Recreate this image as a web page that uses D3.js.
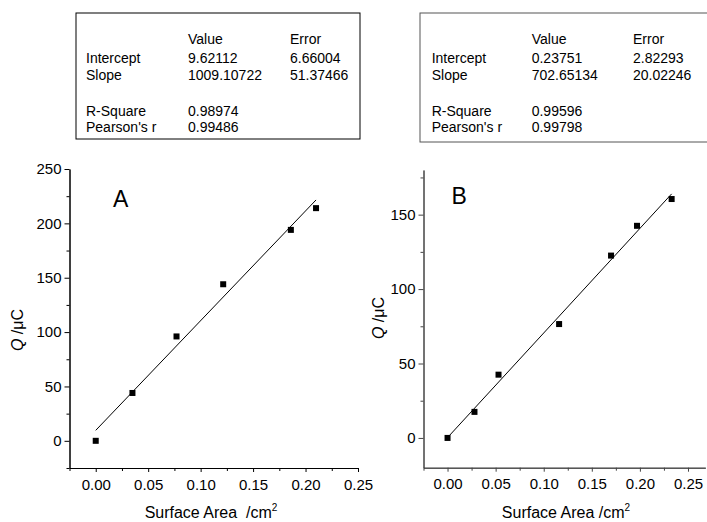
<!DOCTYPE html>
<html>
<head>
<meta charset="utf-8">
<script src="https://cdn.jsdelivr.net/npm/d3@7"></script>
<style>
  body { margin: 0; background: #fff; }
  svg { display: block; font-family: "Liberation Sans", Arial, sans-serif; }
  text { white-space: pre; }
</style>
</head>
<body>
<svg id="chart" width="707" height="522"></svg>
<script>
// panel A data
const areaA = [0, 0.035, 0.077, 0.1215, 0.186, 0.21];
const chargeA = [0, 44, 96, 144, 194, 214];
const fitA = { intercept: 9.62112, slope: 1009.10722 };
const statsA = [
  ['', 'Value', 'Error'],
  ['Intercept', '9.62112', '6.66004'],
  ['Slope', '1009.10722', '51.37466'],
  ['R-Square', '0.98974', ''],
  ["Pearson's r", '0.99486', '']
];

// panel B data
const areaB = [0, 0.028, 0.053, 0.116, 0.17, 0.197, 0.233];
const chargeB = [0, 17.5, 42.5, 76.5, 122.5, 142.5, 160.5];
const fitB = { intercept: 0.23751, slope: 702.65134 };
const statsB = [
  ['', 'Value', 'Error'],
  ['Intercept', '0.23751', '2.82293'],
  ['Slope', '702.65134', '20.02246'],
  ['R-Square', '0.99596', ''],
  ["Pearson's r", '0.99798', '']
];

const xMajor = [0, 0.05, 0.1, 0.15, 0.2, 0.25];
const xMinor = [-0.025, 0.025, 0.075, 0.125, 0.175, 0.225];
const yMajorA = [0, 50, 100, 150, 200, 250];
const yMinorA = [-25, 25, 75, 125, 175, 225];
const yMajorB = [0, 50, 100, 150];
const yMinorB = [25, 75, 125, 175];

const svg = d3.select('#chart');
const rowY = [44, 62.5, 80, 116, 131.5];

function drawStats(stats, box, cols, color) {
  svg.append('rect')
    .attr('x', box[0]).attr('y', box[1])
    .attr('width', box[2]).attr('height', box[3])
    .attr('fill', 'none').attr('stroke', color).attr('stroke-width', 1);
  stats.forEach((row, i) => {
    row.forEach((t, j) => {
      if (!t) return;
      svg.append('text')
        .attr('x', cols[j]).attr('y', rowY[i])
        .attr('font-size', 14).attr('fill', '#000')
        .text(t);
    });
  });
}

function drawPanel(opts) {
  const x = d3.scaleLinear().domain(opts.xDomain).range(opts.xRange);
  const y = d3.scaleLinear().domain(opts.yDomain).range(opts.yRange);
  const g = svg.append('g');
  const x0 = opts.xRange[0], y0 = opts.yRange[0];

  // x axis
  const xa = g.append('g').attr('transform', `translate(0,${y0})`)
    .call(d3.axisBottom(x).tickValues(xMajor).tickSize(4).tickSizeOuter(0).tickPadding(7)
      .tickFormat(d3.format('.2f')));
  g.append('g').attr('transform', `translate(0,${y0})`)
    .call(d3.axisBottom(x).tickValues(xMinor).tickSize(3).tickSizeOuter(0).tickFormat(''));

  // y axis
  const ya = g.append('g').attr('transform', `translate(${x0},0)`)
    .call(d3.axisLeft(y).tickValues(opts.yMajor).tickSize(5).tickSizeOuter(0).tickPadding(3));
  g.append('g').attr('transform', `translate(${x0},0)`)
    .call(d3.axisLeft(y).tickValues(opts.yMinor).tickSize(3).tickSizeOuter(0).tickFormat(''));

  g.selectAll('.domain, .tick line').attr('stroke', opts.axisColor);
  g.selectAll('.tick text').attr('font-size', 15).attr('fill', '#000')
    .attr('font-family', '"Liberation Sans", Arial, sans-serif');

  // fit line
  const xs = [0, d3.max(opts.area)];
  g.append('line')
    .attr('x1', x(xs[0])).attr('y1', y(opts.fit.intercept + opts.fit.slope * xs[0]))
    .attr('x2', x(xs[1])).attr('y2', y(opts.fit.intercept + opts.fit.slope * xs[1]))
    .attr('stroke', '#000').attr('stroke-width', 1);

  // points
  g.selectAll('rect.pt').data(opts.area.map((a, i) => [a, opts.charge[i]]))
    .enter().append('rect').attr('class', 'pt')
    .attr('x', d => x(d[0]) - 3).attr('y', d => y(d[1]) - 3)
    .attr('width', 6).attr('height', 6).attr('fill', '#000');

  // panel letter
  g.append('text').attr('x', opts.letterPos[0]).attr('y', opts.letterPos[1])
    .attr('font-size', 23).text(opts.letter);

  // x title
  const xt = g.append('text').attr('x', opts.xTitlePos[0]).attr('y', opts.xTitlePos[1])
    .attr('text-anchor', 'middle').attr('font-size', 16);
  xt.append('tspan').text(opts.xTitle);
  xt.append('tspan').attr('font-size', 10).attr('dy', -7).text('2');

  // y title
  const yt = g.append('text')
    .attr('transform', `translate(${opts.yTitlePos[0]},${opts.yTitlePos[1]}) rotate(-90)`)
    .attr('text-anchor', 'middle').attr('dy', '0.35em').attr('font-size', 16);
  yt.append('tspan').attr('font-style', 'italic').text('Q');
  yt.append('tspan').text(' /\u03BCC');
}

drawStats(statsA, [76, 13, 284, 126], [86, 188, 290], '#000');
drawStats(statsB, [420, 13, 300, 129], [431.7, 531.7, 633], '#555');

drawPanel({
  area: areaA, charge: chargeA, fit: fitA,
  xDomain: [-0.025, 0.25], xRange: [69.5, 358],
  yDomain: [-25, 250], yRange: [468, 169],
  yMajor: yMajorA, yMinor: yMinorA,
  axisColor: '#000',
  letter: 'A', letterPos: [113, 206.5],
  xTitle: 'Surface Area  /cm', xTitlePos: [211, 518],
  yTitlePos: [17, 330]
});

drawPanel({
  area: areaB, charge: chargeB, fit: fitB,
  xDomain: [-0.025, 0.268], xRange: [423.5, 705.3],
  yDomain: [-20, 180], yRange: [467.7, 170],
  yMajor: yMajorB, yMinor: yMinorB,
  axisColor: '#444',
  letter: 'B', letterPos: [451.5, 204],
  xTitle: 'Surface Area /cm', xTitlePos: [566, 518],
  yTitlePos: [378, 318]
});
</script>
</body>
</html>
